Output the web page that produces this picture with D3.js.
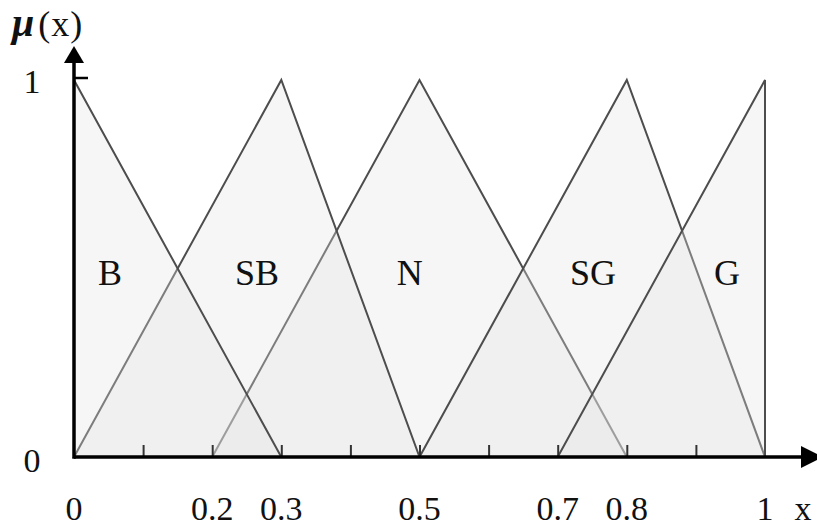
<!DOCTYPE html>
<html>
<head>
<meta charset="utf-8">
<script src="https://cdn.jsdelivr.net/npm/d3@7"></script>
<style>
  body { margin: 0; background: #fff; }
  text { font-family: "Liberation Serif", "Times New Roman", serif; fill: #111; }
</style>
</head>
<body>
<div id="chart"></div>
<script>
// membership sets: [left foot, peak, right foot]
var setNames = ["B", "SB", "N", "SG", "G"];
var setShapes = [[0, 0, 0.3], [0, 0.3, 0.5], [0.2, 0.5, 0.8], [0.5, 0.8, 1], [0.7, 1, 1]];
var labelX = [0.052, 0.265, 0.486, 0.751, 0.945];
var labelY = 0.455;
// order the triangles are painted in (later ones wash out lines beneath)
var drawOrder = ["N", "SB", "B", "SG", "G"];

var minorTicks = [0.1, 0.2, 0.3, 0.4, 0.5, 0.6, 0.7, 0.8, 0.9];
var xTickLabels = [0, 0.2, 0.3, 0.5, 0.7, 0.8, 1];
var yTickLabels = [0, 1];

var width = 817, height = 531;

var x = d3.scaleLinear().domain([0, 1]).range([74, 765]);
var y = d3.scaleLinear().domain([0, 1]).range([457, 80]);

var svg = d3.select("#chart")
  .append("svg")
  .attr("width", width)
  .attr("height", height);

var line = d3.line()
  .x(function(d) { return x(d[0]); })
  .y(function(d) { return y(d[1]); });

// Triangles
var shapes = drawOrder.map(function(name) {
  var i = setNames.indexOf(name);
  var s = setShapes[i];
  return [[s[0], 0], [s[1], 1], [s[2], 0]];
});

svg.selectAll("path.set")
  .data(shapes)
  .enter()
  .append("path")
  .attr("class", "set")
  .attr("d", function(d) { return line(d) + "Z"; })
  .attr("fill", "rgba(228,228,228,0.32)")
  .attr("stroke", "#4d4d4d")
  .attr("stroke-width", 2);

// Set labels
svg.selectAll("text.set-label")
  .data(setNames)
  .enter()
  .append("text")
  .attr("class", "set-label")
  .attr("x", function(d, i) { return x(labelX[i]); })
  .attr("y", y(labelY))
  .attr("text-anchor", "middle")
  .attr("font-size", 36)
  .text(function(d) { return d; });

// Minor ticks pointing up
var xAxis = d3.axisBottom(x)
  .tickValues(minorTicks)
  .tickSize(-12)
  .tickFormat("");

svg.append("g")
  .attr("transform", "translate(0," + y(0) + ")")
  .call(xAxis)
  .call(function(g) { g.select(".domain").remove(); })
  .selectAll("line")
  .attr("stroke", "#333")
  .attr("stroke-width", 2);

// x axis with arrow
svg.append("line")
  .attr("x1", x(0)).attr("x2", 808)
  .attr("y1", y(0)).attr("y2", y(0))
  .attr("stroke", "#000")
  .attr("stroke-width", 3.5);
svg.append("path")
  .attr("d", "M801," + (y(0) - 11) + "L823," + y(0) + "L801," + (y(0) + 11) + "Z")
  .attr("fill", "#000");

// y axis with arrow
svg.append("line")
  .attr("x1", x(0)).attr("x2", x(0))
  .attr("y1", y(0) + 1.75).attr("y2", 60)
  .attr("stroke", "#000")
  .attr("stroke-width", 3.5);
svg.append("path")
  .attr("d", "M" + (x(0) - 10) + ",63L" + x(0) + ",46L" + (x(0) + 10) + ",63Z")
  .attr("fill", "#000");
svg.append("line")
  .attr("x1", x(0)).attr("x2", x(0) + 14)
  .attr("y1", 78).attr("y2", 78)
  .attr("stroke", "#000")
  .attr("stroke-width", 2.5);

// tick labels
svg.selectAll("text.xlab")
  .data(xTickLabels)
  .enter()
  .append("text")
  .attr("class", "xlab")
  .attr("x", function(d) { return x(d); })
  .attr("y", 520)
  .attr("text-anchor", "middle")
  .attr("font-size", 34)
  .text(function(d) { return d; });

svg.append("text")
  .attr("x", 803)
  .attr("y", 520)
  .attr("text-anchor", "middle")
  .attr("font-size", 34)
  .text("x");

svg.selectAll("text.ylab")
  .data(yTickLabels)
  .enter()
  .append("text")
  .attr("class", "ylab")
  .attr("x", 32)
  .attr("y", function(d) { return d === 1 ? 93 : 472; })
  .attr("text-anchor", "middle")
  .attr("font-size", 34)
  .text(function(d) { return d; });

// axis title
var title = svg.append("text")
  .attr("x", 12)
  .attr("y", 36);
title.append("tspan")
  .attr("font-style", "italic")
  .attr("font-weight", "bold")
  .attr("font-size", 40)
  .text("\u03BC");
title.append("tspan")
  .attr("dx", 4)
  .attr("font-size", 36)
  .attr("letter-spacing", 1)
  .text("(x)");
</script>
</body>
</html>
